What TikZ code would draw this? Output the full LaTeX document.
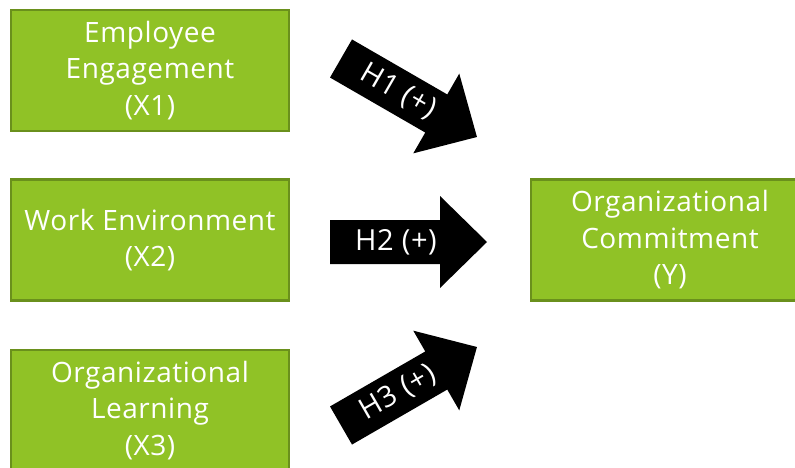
\documentclass[tikz,border=0pt]{standalone}
\usepackage{fontspec}
\setmainfont{Open Sans}[Ligatures=NoCommon, LetterSpace=2]
\definecolor{boxfill}{HTML}{90C226}
\definecolor{boxline}{HTML}{6A901C}
\begin{document}
\begin{tikzpicture}[x=1pt,y=-1pt,
  varbox/.style={draw=boxline, line width=2.5pt, fill=boxfill, text=white,
    minimum width=278pt, minimum height=121pt, align=center,
    font=\fontsize{28}{36.5}\selectfont, inner sep=0pt},
  arrowlabel/.style={text=white, font=\fontsize{29}{30}\selectfont, inner sep=0pt}]
\useasboundingbox (0,0) rectangle (795,468);
\clip (0,0) rectangle (795,468);

% variable boxes
\node[varbox] (x1) at (150,70.5) {Employee\\Engagement\\(X1)};
\node[varbox] (x2) at (150,240) {Work Environment\\(X2)};
\node[varbox] (x3) at (150,410.5) {Organizational\\Learning\\(X3)};
\node[varbox] (y)  at (670,240) {Organizational\\Commitment\\(Y)};

% block arrows: tail centre, direction, label
\foreach \tx/\ty/\ang/\lab/\nm in {341/58.5/-30/H1 (+)/h1, 330/242/0/H2 (+)/h2, 341/425.5/30/H3 (+)/h3}{
  \begin{scope}[shift={(\tx,\ty)}, rotate=\ang]
    \fill[black] (0,-22) -- (110,-22) -- (110,-46) -- (157,0) -- (110,46) -- (110,22) -- (0,22) -- cycle;
    \node[arrowlabel, rotate=\ang] (\nm) at (66,0) {\lab};
  \end{scope}
}
\end{tikzpicture}
\end{document}
